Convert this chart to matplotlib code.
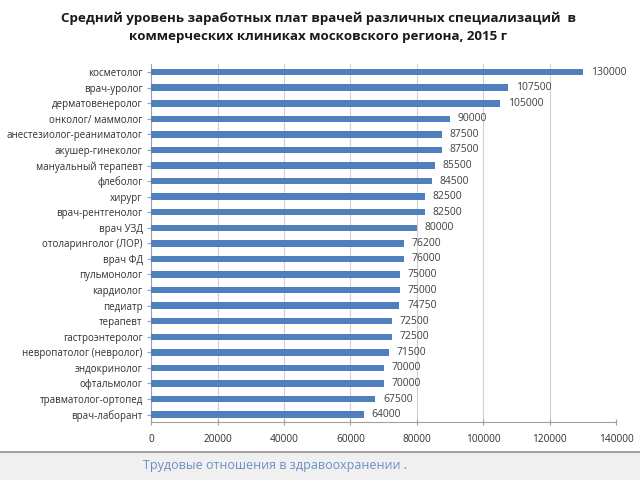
import matplotlib.pyplot as plt
from matplotlib.patches import Rectangle

plt.rcParams['font.family'] = ['Open Sans', 'DejaVu Sans']

specialties = ["косметолог", "врач-уролог", "дерматовенеролог", "онколог/ маммолог",
               "анестезиолог-реаниматолог", "акушер-гинеколог", "мануальный терапевт",
               "флеболог", "хирург", "врач-рентгенолог", "врач УЗД", "отоларинголог (ЛОР)",
               "врач ФД", "пульмонолог", "кардиолог", "педиатр", "терапевт",
               "гастроэнтеролог", "невропатолог (невролог)", "эндокринолог",
               "офтальмолог", "травматолог-ортопед", "врач-лаборант"]
salaries = [130000, 107500, 105000, 90000, 87500, 87500, 85500, 84500, 82500, 82500,
            80000, 76200, 76000, 75000, 75000, 74750, 72500, 72500, 71500, 70000,
            70000, 67500, 64000]
x_ticks = [0, 20000, 40000, 60000, 80000, 100000, 120000, 140000]

title = ("Средний уровень заработных плат врачей различных специализаций  в\n"
         "коммерческих клиниках московского региона, 2015 г")
footer = "Трудовые отношения в здравоохранении ."

fig = plt.figure(figsize=(6.4, 4.8), dpi=100)
ax = fig.add_axes([0.236, 0.12, 0.727, 0.746])

pos = list(range(len(specialties)))
ax.barh(pos, salaries, height=0.42, color='#4f7fbc', zorder=3)
for p, v in zip(pos, salaries):
    ax.text(v + 2300, p, str(v), va='center', ha='left', fontsize=7.5, color='#404040')

ax.set_yticks(pos)
ax.set_yticklabels(specialties, fontsize=7.0, color='#303030')
ax.set_ylim(len(specialties) - 0.5, -0.5)
ax.set_xlim(0, 140000)
ax.set_xticks(x_ticks)
ax.set_xticklabels([str(t) for t in x_ticks], fontsize=7.3, color='#303030')
ax.xaxis.grid(True, color='#d0d0d0', linewidth=0.8, zorder=0)
for s in ['top', 'right']:
    ax.spines[s].set_visible(False)
for s in ['left', 'bottom']:
    ax.spines[s].set_color('#a0a0a0')
ax.tick_params(axis='y', length=3, color='#a0a0a0', pad=3)
ax.tick_params(axis='x', length=4, color='#a0a0a0', direction='inout', pad=6)

fig.text(0.497, 0.975, title, ha='center', va='top', fontsize=9.6,
         fontweight='bold', color='#1a1a1a', linespacing=1.45)

# footer band
fig.patches.append(Rectangle((0, 0), 1, 0.058, transform=fig.transFigure,
                             facecolor='#f0f0f0', edgecolor='none', zorder=0))
fig.lines.append(plt.Line2D([0, 1], [0.058, 0.058], transform=fig.transFigure,
                            color='#909090', linewidth=1.2))
fig.text(0.224, 0.03, footer, ha='left', va='center', fontsize=9.0, color='#6b8fc4')

fig.savefig('out.png', dpi=100)
